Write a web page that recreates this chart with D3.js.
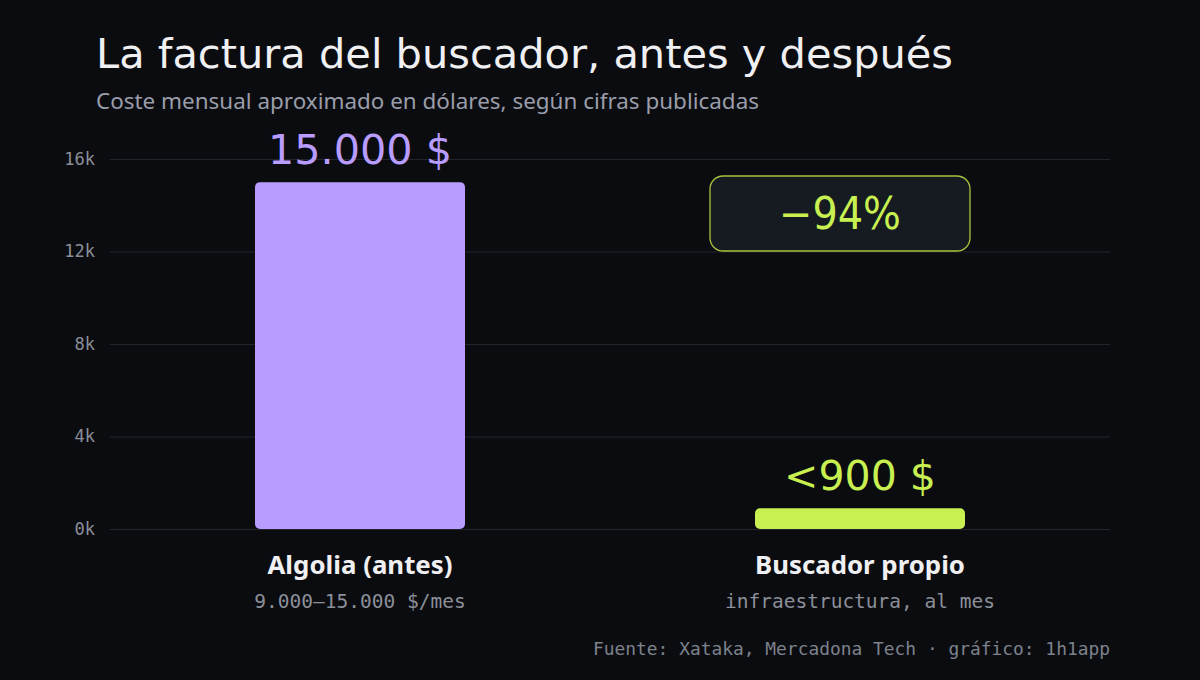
<!DOCTYPE html>
<html><head><meta charset="utf-8">
<script src="https://cdn.jsdelivr.net/npm/d3@7"></script>
<style>
html,body{margin:0;padding:0;background:#0b0c10;}
svg{display:block;}
</style></head>
<body>
<svg id="chart" width="1200" height="680"></svg>
<script>
const categories = ["Algolia (antes)", "Buscador propio"];
const values = [15000, 900];
const valueLabels = ["15.000 $", "<900 $"];
const subLabels = ["9.000–15.000 $/mes", "infraestructura, al mes"];
const barColors = ["#b89cff", "#c8f050"];
const yTicks = [0, 4000, 8000, 12000, 16000];
const badgeText = "−94%";

const W = 1200, H = 680;
const margin = {left: 110, right: 90, top: 159, bottom: 151};
const svg = d3.select("#chart");
svg.append("rect").attr("width", W).attr("height", H).attr("fill", "#0b0c10");

const y = d3.scaleLinear().domain([0, 16000]).range([H - margin.bottom, margin.top]);
const x = d3.scaleBand().domain(categories).range([margin.left, W - margin.right]).padding(0);
const barW = x.bandwidth() * 0.42;

const mono = "'DejaVu Sans Mono', 'Liberation Mono', monospace";
const display = "'DejaVu Sans', sans-serif";

// grid + axis
const yAxis = d3.axisLeft(y).tickValues(yTicks).tickFormat(d => (d/1000) + "k")
  .tickSize(-(W - margin.left - margin.right)).tickPadding(15);
const ga = svg.append("g").attr("transform", `translate(${margin.left},0)`).call(yAxis);
ga.select(".domain").remove();
ga.selectAll(".tick line").attr("stroke", "#22252c").attr("stroke-width", 1);
ga.selectAll(".tick text").attr("fill", "#8b8f99").style("font-family", mono).style("font-size", "17px");

// bars
svg.selectAll("rect.bar").data(categories).join("rect")
  .attr("class", "bar")
  .attr("x", d => x(d) + x.bandwidth()/2 - barW/2)
  .attr("y", (d, i) => y(values[i]))
  .attr("width", barW)
  .attr("height", (d, i) => y(0) - y(values[i]))
  .attr("rx", 5).attr("ry", 5)
  .attr("fill", (d, i) => barColors[i]);

// value labels
svg.selectAll("text.val").data(categories).join("text")
  .attr("class", "val")
  .attr("x", d => x(d) + x.bandwidth()/2)
  .attr("y", (d, i) => y(values[i]) - 18)
  .attr("text-anchor", "middle")
  .attr("fill", (d, i) => barColors[i])
  .style("font-family", display).style("font-size", "40px").style("font-weight", 400)
  .attr("textLength", (d, i) => i === 0 ? 184 : 152).attr("lengthAdjust", "spacingAndGlyphs")
  .text((d, i) => valueLabels[i]);

// category labels
svg.selectAll("text.cat").data(categories).join("text")
  .attr("class", "cat")
  .attr("x", d => x(d) + x.bandwidth()/2)
  .attr("y", 574)
  .attr("text-anchor", "middle")
  .attr("fill", "#f0f0f3")
  .style("font-family", "'Noto Sans', sans-serif").style("font-size", "25.5px").style("font-weight", 700)
  .attr("textLength", (d, i) => i === 0 ? 185 : 210).attr("lengthAdjust", "spacingAndGlyphs")
  .text(d => d);

svg.selectAll("text.sub").data(categories).join("text")
  .attr("class", "sub")
  .attr("x", d => x(d) + x.bandwidth()/2)
  .attr("y", 608)
  .attr("text-anchor", "middle")
  .attr("fill", "#8b8f99")
  .style("font-family", mono).style("font-size", "19.5px")
  .text((d, i) => subLabels[i]);

// badge
const bx = x(categories[1]) + x.bandwidth()/2 - 20;
const badge = svg.append("g");
badge.append("rect").attr("x", bx - 130).attr("y", 176).attr("width", 260).attr("height", 75)
  .attr("rx", 13).attr("fill", "#161a21").attr("stroke", "#a9c43c").attr("stroke-width", 1.3);
badge.append("text").attr("x", bx).attr("y", 229).attr("text-anchor", "middle")
  .attr("fill", "#c8f050")
  .style("font-family", display).style("font-size", "44px").style("font-weight", 400)
  .attr("textLength", 122).attr("lengthAdjust", "spacingAndGlyphs")
  .text(badgeText);

// title
svg.append("text").attr("x", 96).attr("y", 68).attr("fill", "#f0f0f3")
  .style("font-family", display).style("font-size", "40px").style("font-weight", 400)
  .attr("textLength", 857).attr("lengthAdjust", "spacingAndGlyphs")
  .text("La factura del buscador, antes y después");
svg.append("text").attr("x", 96).attr("y", 109).attr("fill", "#9a9daa")
  .style("font-family", "'Noto Sans', sans-serif").style("font-size", "21px")
  .attr("textLength", 663).attr("lengthAdjust", "spacingAndGlyphs")
  .text("Coste mensual aproximado en dólares, según cifras publicadas");

// footer
svg.append("text").attr("x", 1110).attr("y", 655).attr("text-anchor", "end").attr("fill", "#7d828c")
  .style("font-family", mono).style("font-size", "17.9px")
  .text("Fuente: Xataka, Mercadona Tech · gráfico: 1h1app");
</script>
</body></html>
